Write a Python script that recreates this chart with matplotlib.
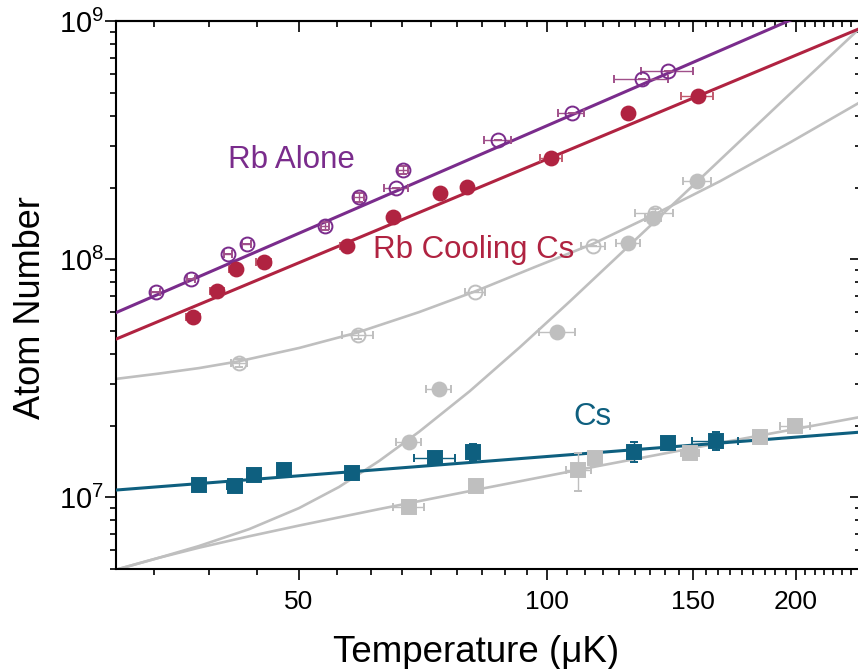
import numpy as np
import matplotlib
matplotlib.use('Agg')
import matplotlib.pyplot as plt
from matplotlib.ticker import FixedLocator, FuncFormatter, NullFormatter

plt.rcParams['font.family'] = ['Liberation Sans', 'DejaVu Sans']
plt.rcParams['mathtext.fontset'] = 'custom'
plt.rcParams['mathtext.rm'] = 'Liberation Sans'
plt.rcParams['mathtext.default'] = 'regular'

# colours
c_rb = '#7a2c8c'
c_rbcs = '#b02341'
c_cs = '#0e5f7f'
c_gray = '#bfbfbf'

# Rb alone (open purple circles)
rb_T = [33.5, 37.0, 41.0, 43.2, 53.8, 59.1, 65.6, 66.8, 87.1, 107.0, 130.1, 140.1]
rb_N = [7.31e7, 8.24e7, 1.053e8, 1.16e8, 1.38e8, 1.82e8, 2.0e8, 2.37e8, 3.17e8, 4.13e8, 5.71e8, 6.18e8]
rb_Terr = [0.4, 0.4, 0.5, 0.5, 0.6, 0.8, 2.2, 0.9, 3.2, 3.9, 9.8, 10.2]
rb_Nerr = [0, 0, 0, 0, 5.4e6, 7.1e6, 0, 9.2e6, 0, 0, 0, 0]

# Rb cooling Cs (filled red circles)
rbcs_T = [37.2, 39.8, 41.9, 45.3, 57.1, 65.0, 74.1, 80.0, 101.0, 125.1, 152.2]
rbcs_N = [5.74e7, 7.36e7, 9.08e7, 9.77e7, 1.14e8, 1.50e8, 1.89e8, 2.02e8, 2.67e8, 4.11e8, 4.87e8]
rbcs_Terr = [0.7, 0.8, 0.8, 0.9, 1.1, 0.3, 0.3, 0.3, 3.1, 0.3, 6.8]

# Cs (filled teal squares)
cs_T = [37.8, 41.8, 44.1, 47.9, 58.0, 73.1, 81.2, 127.3, 139.9, 160.0]
cs_N = [1.126e7, 1.118e7, 1.24e7, 1.30e7, 1.27e7, 1.47e7, 1.55e7, 1.555e7, 1.69e7, 1.73e7]
cs_Terr = [0.5, 0.9, 0.8, 0.6, 0.5, 4.1, 0.8, 1.0, 1.0, 10.3]
cs_Nerr = [3e5, 6.5e5, 3e5, 3e5, 3e5, 3e5, 1.2e6, 1.5e6, 3e5, 1.5e6]

# grey open circles
go_T = [42.3, 58.9, 81.8, 113.5, 135.0]
go_N = [3.66e7, 4.81e7, 7.31e7, 1.137e8, 1.57e8]
go_Terr = [0.9, 2.5, 2.3, 3.8, 7.2]
go_Nerr = [1.4e6, 1.9e6, 0, 0, 6e6]

# grey filled circles
gf_T = [67.9, 73.8, 102.8, 125.3, 134.2, 152.0]
gf_N = [1.70e7, 2.84e7, 4.96e7, 1.174e8, 1.49e8, 2.13e8]
gf_Terr = [2.3, 2.6, 5.2, 4.2, 3.0, 6.0]

# grey squares
gs_T = [67.9, 81.9, 109.0, 114.2, 148.9, 180.8, 199.8]
gs_N = [9.13e6, 1.118e7, 1.30e7, 1.46e7, 1.53e7, 1.79e7, 2.0e7]
gs_Terr = [2.9, 0.6, 3.8, 2.2, 3.8, 3.0, 8.4]
gs_Nerr = [2e5, 2e5, 2.4e6, 3e5, 3e5, 2e5, 2e5]

# fit lines (end points)
fit_rb_T = [30, 240]
fit_rb_N = [5.97e7, 1.36e9]
fit_rbcs_T = [30, 240]
fit_rbcs_N = [4.62e7, 9.37e8]
fit_cs_T = [30, 240]
fit_cs_N = [1.073e7, 1.88e7]

# grey model curves
curve_go_T = [29.9, 33.8, 37.8, 42.3, 50.0, 58.9, 69.9, 81.8, 96.5, 113.5, 135.0, 162.0, 197.0, 240.4]
curve_go_N = [3.14e7, 3.31e7, 3.49e7, 3.73e7, 4.24e7, 4.93e7, 6.0e7, 7.34e7, 9.27e7, 1.16e8,
              1.547e8, 2.13e8, 3.10e8, 4.61e8]
curve_gf_T = [29.9, 33.8, 37.8, 43.5, 50.0, 55.9, 62.5, 69.9, 80.5, 92.6, 106.5, 125.9, 153.2,
              191.5, 240.4]
curve_gf_N = [4.95e6, 5.57e6, 6.24e6, 7.35e6, 9.01e6, 1.105e7, 1.42e7, 1.885e7, 2.79e7, 4.27e7,
              6.66e7, 1.149e8, 2.18e8, 4.53e8, 9.50e8]
curve_gs_T = [29.9, 33.8, 37.8, 43.5, 50.0, 62.5, 82.8, 115.8, 166.6, 240.4]
curve_gs_N = [4.95e6, 5.57e6, 6.14e6, 6.86e6, 7.61e6, 8.92e6, 1.083e7, 1.358e7, 1.724e7, 2.18e7]

x_major = [50, 100, 150, 200]
x_minor = [50 + k * 50 / 9 for k in range(-3, 35) if k % 9 != 0]

fig = plt.figure(figsize=(8.58, 6.69), dpi=100)
ax = fig.add_axes([0.1352, 0.1495, 0.8683, 0.8187])
ax.set_xscale('log')
ax.set_yscale('log')

# grey model curves
ax.plot(curve_go_T, curve_go_N, color=c_gray, lw=1.9, zorder=2)
ax.plot(curve_gf_T, curve_gf_N, color=c_gray, lw=1.9, zorder=2)
ax.plot(curve_gs_T, curve_gs_N, color=c_gray, lw=1.9, zorder=2)

# fits
ax.plot(fit_rb_T, fit_rb_N, color=c_rb, lw=2.2, zorder=3)
ax.plot(fit_rbcs_T, fit_rbcs_N, color=c_rbcs, lw=2.2, zorder=3)
ax.plot(fit_cs_T, fit_cs_N, color=c_cs, lw=2.2, zorder=3)

eb = dict(capsize=3, elinewidth=1.0, capthick=1.0, ms=10, mew=1.4, linestyle='none')
ax.errorbar(go_T, go_N, xerr=go_Terr, yerr=go_Nerr, marker='o', mfc='none', mec=c_gray,
            ecolor=c_gray, zorder=4, **eb)
ax.errorbar(gf_T, gf_N, xerr=gf_Terr, marker='o', mfc=c_gray, mec=c_gray,
            ecolor=c_gray, zorder=4, **eb)
ax.errorbar(gs_T, gs_N, xerr=gs_Terr, yerr=gs_Nerr, marker='s', mfc=c_gray, mec=c_gray,
            ecolor=c_gray, zorder=4, **eb)
ax.errorbar(rb_T, rb_N, xerr=rb_Terr, yerr=rb_Nerr, marker='o', mfc='none', mec=c_rb,
            ecolor='#a0508a', zorder=5, **eb)
ax.errorbar(rbcs_T, rbcs_N, xerr=rbcs_Terr, marker='o', mfc=c_rbcs, mec=c_rbcs,
            ecolor='#c25a6e', zorder=5, **eb)
ax.errorbar(cs_T, cs_N, xerr=cs_Terr, yerr=cs_Nerr, marker='s', mfc=c_cs, mec=c_cs,
            ecolor=c_cs, zorder=5, **eb)

ax.set_xlim(30, 240)
ax.set_ylim(5e6, 1e9)

# series labels (figure pixel positions)
ax.annotate('Rb Alone', xy=(228 / 858, 1 - 168 / 669), xycoords='figure fraction',
            color=c_rb, fontsize=22.5, ha='left', va='baseline')
ax.annotate('Rb Cooling Cs', xy=(373 / 858, 1 - 258 / 669), xycoords='figure fraction',
            color=c_rbcs, fontsize=22.5, ha='left', va='baseline')
ax.annotate('Cs', xy=(573 / 858, 1 - 425 / 669), xycoords='figure fraction',
            color=c_cs, fontsize=22.5, ha='left', va='baseline')

# ticks
ax.xaxis.set_major_locator(FixedLocator(x_major))
ax.xaxis.set_minor_locator(FixedLocator(x_minor))
ax.xaxis.set_major_formatter(FuncFormatter(lambda v, p: '%d' % v))
ax.xaxis.set_minor_formatter(NullFormatter())
ax.yaxis.set_major_formatter(FuncFormatter(lambda v, p: r'$10^{%d}$' % round(np.log10(v))))
ax.tick_params(which='major', direction='out', length=8, width=1.2, labelsize=19)
ax.tick_params(which='minor', direction='out', length=4.5, width=1.2)
ax.tick_params(axis='x', which='major', pad=7)
ax.tick_params(axis='y', which='major', labelsize=21, pad=0.5)

for s in ax.spines.values():
    s.set_linewidth(1.5)

top = ax.secondary_xaxis('top')
top.set_xscale('log')
top.xaxis.set_major_locator(FixedLocator(x_major))
top.xaxis.set_minor_locator(FixedLocator(x_minor))
top.xaxis.set_major_formatter(NullFormatter())
top.xaxis.set_minor_formatter(NullFormatter())
top.tick_params(which='major', direction='in', length=8, width=1.2)
top.tick_params(which='minor', direction='in', length=4.5, width=1.2)
top.spines['top'].set_linewidth(1.5)

right = ax.secondary_yaxis('right')
right.yaxis.set_major_formatter(NullFormatter())
right.yaxis.set_minor_formatter(NullFormatter())
right.tick_params(which='major', direction='in', length=8, width=1.2)
right.tick_params(which='minor', direction='in', length=4.5, width=1.2)

fig.text(31 / 858, 1 - 308 / 669, 'Atom Number', rotation=90, ha='center', va='center',
         fontsize=26)
fig.text(476 / 858, 1 - 662 / 669, 'Temperature (\u03bcK)', ha='center', va='baseline',
         fontsize=26.5)

fig.savefig('out.png', dpi=100)
